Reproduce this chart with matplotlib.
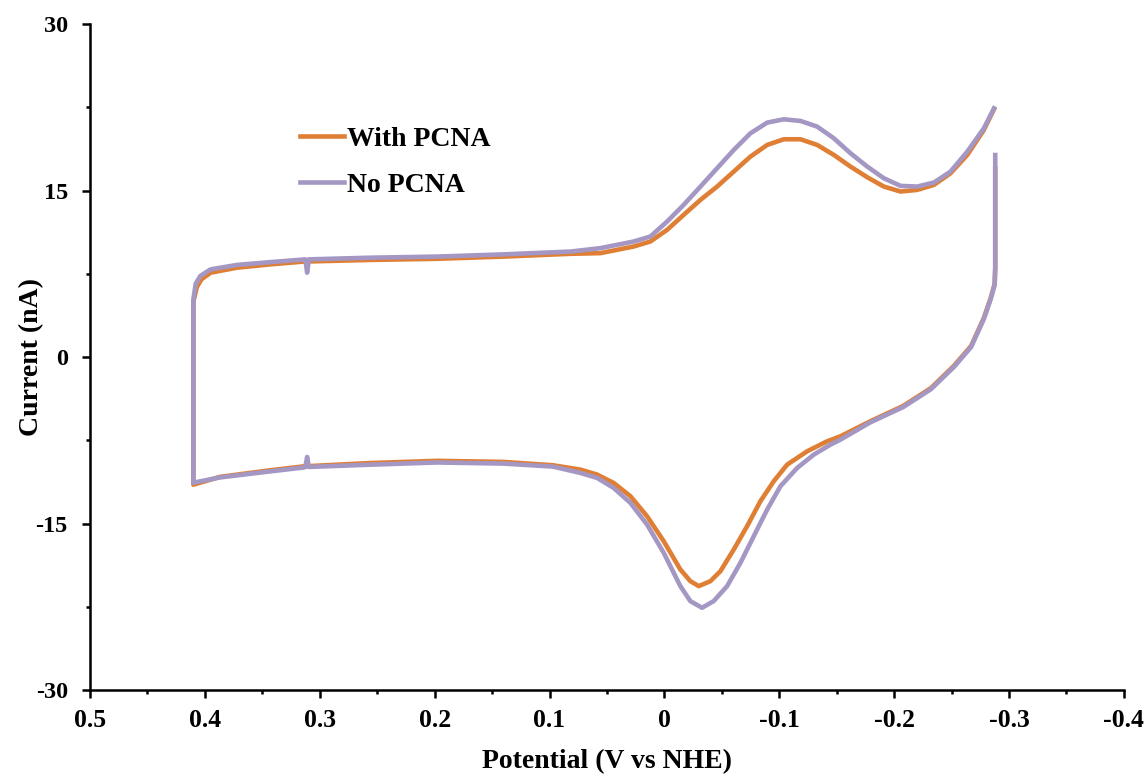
import matplotlib
matplotlib.use("Agg")
import matplotlib.pyplot as plt
from matplotlib.ticker import MultipleLocator, FixedLocator

plt.rcParams['font.family'] = ['Liberation Serif', 'DejaVu Serif']
plt.rcParams['font.weight'] = 'bold'
plt.rcParams['axes.unicode_minus'] = False

# ---- data ----
labels = ["With PCNA", "No PCNA"]
colors = ["#DF7F35", "#A497C4"]

with_x = [-0.288, -0.288, -0.2875, -0.284, -0.278, -0.267, -0.252, -0.232, -0.208, -0.179,
          -0.1533, -0.1417, -0.1243, -0.1069, -0.0952, -0.0836, -0.0720, -0.0604, -0.0488,
          -0.0401, -0.0299, -0.0226, -0.0139, 0.0006, 0.0151, 0.0296, 0.0442, 0.0586, 0.0732,
          0.097, 0.140, 0.198, 0.256, 0.314, 0.343, 0.387, 0.410,
          0.410, 0.407, 0.403, 0.395, 0.372, 0.343, 0.314, 0.256, 0.198, 0.140, 0.082,
          0.0557, 0.0412, 0.0267, 0.0122, -0.0024, -0.0168, -0.0314, -0.0459, -0.0604,
          -0.0749, -0.0895, -0.1039, -0.1185, -0.133, -0.1475, -0.162, -0.1766, -0.191,
          -0.2056, -0.2201, -0.2346, -0.2491, -0.2637, -0.2781, -0.2869]
with_y = [17.0, 8.0, 6.6, 5.3, 3.5, 1.0, -0.8, -2.8, -4.4, -5.8,
          -7.14, -7.59, -8.49, -9.69, -11.19, -12.99, -15.24, -17.34, -19.29,
          -20.19, -20.64, -20.19, -19.14, -16.59, -14.34, -12.54, -11.34, -10.59, -10.14,
          -9.75, -9.45, -9.35, -9.55, -9.85, -10.2, -10.8, -11.5,
          5.0, 6.3, 7.0, 7.6, 8.05, 8.35, 8.6, 8.75, 8.85, 9.05, 9.3,
          9.36, 9.66, 9.96, 10.41, 11.46, 12.81, 14.16, 15.36, 16.71,
          18.06, 19.11, 19.62, 19.62, 19.11, 18.21, 17.16, 16.20, 15.36,
          14.91, 15.06, 15.51, 16.56, 18.21, 20.46, 22.32]

no_x = [-0.288, -0.288, -0.2875, -0.284, -0.278, -0.267, -0.252, -0.232, -0.208, -0.179,
        -0.1533, -0.1446, -0.1301, -0.1156, -0.1010, -0.0895, -0.0778, -0.0662, -0.0546,
        -0.0429, -0.0328, -0.0226, -0.0139, 0.0006, 0.0151, 0.0296, 0.0442, 0.0586, 0.0732,
        0.097, 0.140, 0.198, 0.256, 0.3095, 0.311, 0.3125, 0.314, 0.343, 0.387, 0.409, 0.410,
        0.410, 0.408, 0.404, 0.395, 0.372, 0.343, 0.3125, 0.311, 0.3095, 0.256, 0.198,
        0.140, 0.082,
        0.0557, 0.0412, 0.0267, 0.0122, -0.0024, -0.0168, -0.0314, -0.0459, -0.0604,
        -0.0749, -0.0895, -0.1039, -0.1185, -0.133, -0.1475, -0.162, -0.1766, -0.191,
        -0.2056, -0.2201, -0.2346, -0.2491, -0.2637, -0.2781, -0.2869]
no_y = [18.2, 8.0, 6.5, 5.2, 3.4, 0.9, -0.9, -2.9, -4.5, -5.9,
        -7.44, -7.89, -8.79, -9.99, -11.64, -13.74, -16.14, -18.54, -20.64,
        -21.99, -22.59, -21.99, -20.64, -17.64, -15.09, -13.14, -11.79, -10.89, -10.44,
        -9.87, -9.6, -9.5, -9.7, -9.9, -9.0, -9.9, -9.95, -10.3, -10.85, -11.3, -11.35,
        5.2, 6.6, 7.3, 7.9, 8.3, 8.55, 8.8, 7.6, 8.8, 8.95, 9.05,
        9.25, 9.5,
        9.81, 10.11, 10.41, 10.86, 12.21, 13.71, 15.36, 17.01, 18.66,
        20.16, 21.12, 21.42, 21.27, 20.76, 19.71, 18.36, 17.16, 16.11,
        15.42, 15.36, 15.72, 16.71, 18.51, 20.61, 22.41]

x_ticks = [0.5, 0.4, 0.3, 0.2, 0.1, 0.0, -0.1, -0.2, -0.3, -0.4]
x_ticklabels = ["0.5", "0.4", "0.3", "0.2", "0.1", "0", "-0.1", "-0.2", "-0.3", "-0.4"]
y_ticks = [-30, -15, 0, 15, 30]
y_ticklabels = ["-30", "-15", "0", "15", "30"]

# ---- figure ----
fig = plt.figure(figsize=(11.48, 7.76), dpi=100)
ax = fig.add_axes([0.0784, 0.1108, 0.9006, 0.8582])

ax.plot(with_x, with_y, color=colors[0], lw=3.3, label=labels[0], solid_joinstyle='round')
ax.plot(no_x, no_y, color=colors[1], lw=3.3, label=labels[1], solid_joinstyle='round')

ax.set_xlim(0.5, -0.4)
ax.set_ylim(-30, 30)

ax.spines['top'].set_visible(False)
ax.spines['right'].set_visible(False)
for s in ('left', 'bottom'):
    ax.spines[s].set_linewidth(1.8)

ax.xaxis.set_major_locator(FixedLocator(x_ticks))
ax.set_xticklabels(x_ticklabels)
ax.xaxis.set_minor_locator(MultipleLocator(0.05))
ax.yaxis.set_major_locator(FixedLocator(y_ticks))
ax.set_yticklabels(y_ticklabels)
ax.yaxis.set_minor_locator(MultipleLocator(7.5))

ax.tick_params(axis='x', which='major', direction='out', length=6, width=1.8,
               labelsize=18.5, pad=8)
ax.tick_params(axis='y', which='major', direction='out', length=6, width=1.8,
               labelsize=17.5, pad=10)
ax.tick_params(axis='both', which='minor', direction='out', length=3, width=1.8)
for lab in ax.get_xticklabels() + ax.get_yticklabels():
    lab.set_fontweight('bold')

ax.set_xlabel("Potential (V vs NHE)", fontsize=20, fontweight='bold', labelpad=12)
ax.set_ylabel("Current (nA)", fontsize=20, fontweight='bold', labelpad=-6)

leg = ax.legend(loc='upper left', bbox_to_anchor=(0.203, 0.846), frameon=False,
                fontsize=20, handlelength=1.6, handletextpad=0.1, labelspacing=0.72,
                borderpad=0, borderaxespad=0)
for t in leg.get_texts():
    t.set_fontweight('bold')
for h in leg.get_lines():
    h.set_linewidth(3.3)

fig.savefig("out.png", dpi=100)
